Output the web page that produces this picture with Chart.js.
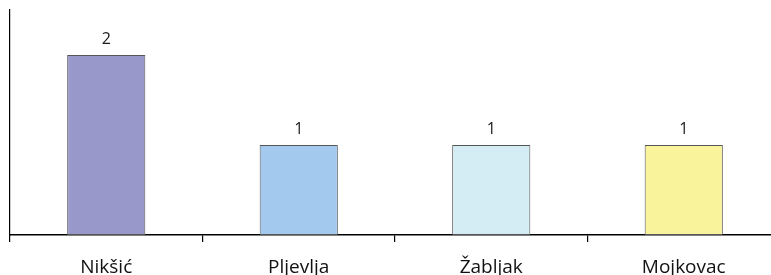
<!DOCTYPE html>
<html>
<head>
<meta charset="utf-8">
<script src="https://cdn.jsdelivr.net/npm/chart.js@4/dist/chart.umd.min.js"></script>
<style>
    html, body {margin: 0; padding: 0; background: #fff; overflow: hidden;}
    #wrap {width: 780px; height: 275px;}
</style>
</head>
<body>
<div id="wrap"><canvas id="chart"></canvas></div>
<script>
const categories = ['Nikšić', 'Pljevlja', 'Žabljak', 'Mojkovac']
const values = [2, 1, 1, 1]
const colors = ['#9898CA', '#A3C9EE', '#D4ECF3', '#F9F39B']

// draws the number over each bar
const valueLabels = {
    id: 'valueLabels',
    afterDatasetsDraw(chart) {
        const ctx = chart.ctx
        ctx.save()
        ctx.font = '16px "Open Sans"'
        ctx.fillStyle = '#1a1a1a'
        ctx.textAlign = 'center'
        ctx.textBaseline = 'middle'
        chart.getDatasetMeta(0).data.forEach((bar, i) => {
            ctx.fillText(String(values[i]), bar.x, bar.y - 16)
        })
        ctx.restore()
    }
}

new Chart(document.getElementById('chart'), {
    type: 'bar',
    data: {
        labels: categories,
        datasets: [{
            data: values,
            backgroundColor: colors,
            borderColor: '#555',
            borderWidth: 1,
            borderSkipped: false,
            categoryPercentage: 1,
            barPercentage: 0.406
        }]
    },
    options: {
        responsive: true,
        maintainAspectRatio: false,
        animation: false,
        layout: {padding: {left: 10, top: 10, right: 0, bottom: 0}},
        plugins: {
            legend: {display: false},
            tooltip: {enabled: false}
        },
        scales: {
            x: {
                grid: {
                    offset: true,
                    drawOnChartArea: false,
                    drawTicks: true,
                    tickLength: 7,
                    color: '#000',
                    lineWidth: 1.2
                },
                border: {display: true, color: '#000', width: 1.5},
                ticks: {
                    font: {family: 'Open Sans', size: 19},
                    color: '#111',
                    padding: 14,
                    maxRotation: 0
                },
                afterFit(scale) { scale.height = 40 }
            },
            y: {
                min: 0,
                max: 2.5,
                grid: {display: false},
                border: {display: true, color: '#000', width: 1.2},
                ticks: {display: false},
                afterFit(scale) { scale.width = 0 }
            }
        }
    },
    plugins: [valueLabels]
})
</script>
</body>
</html>
